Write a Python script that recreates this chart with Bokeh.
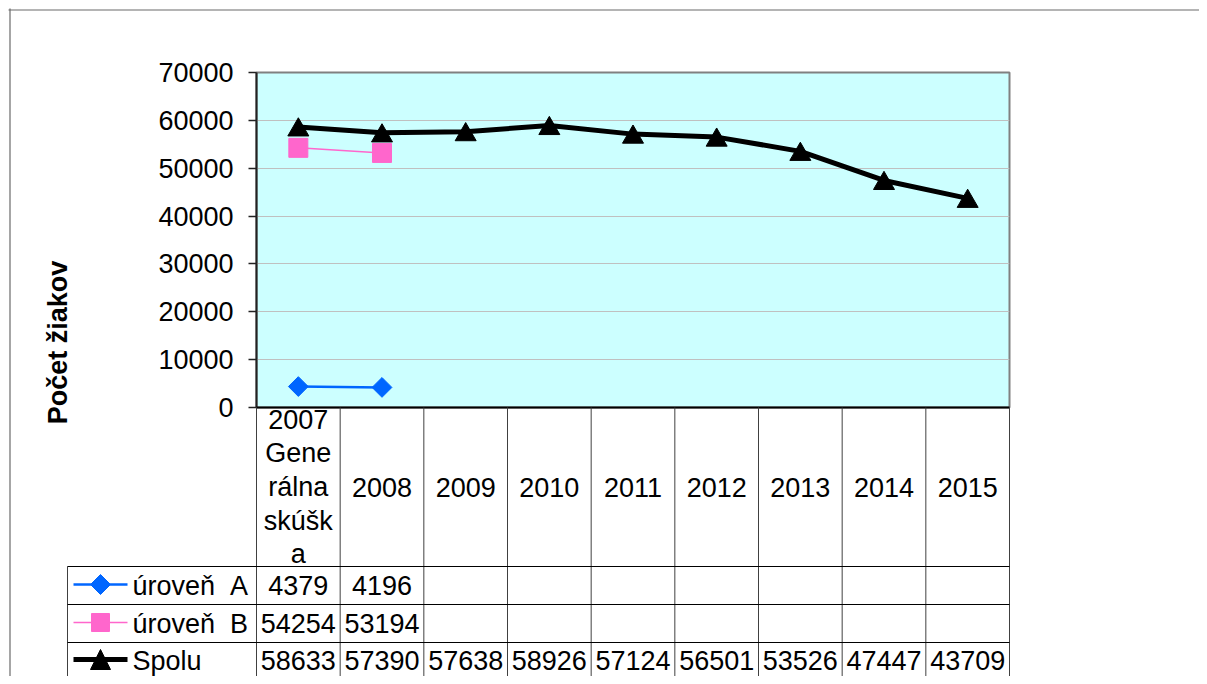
import math
import numpy as np
from bokeh.plotting import figure
from bokeh.models import Range1d, FixedTicker, BasicTickFormatter
from bokeh.core.properties import value
from bokeh.embed import file_html
from bokeh.resources import INLINE

# ---------------- data ----------------
categories = ["2007\nGene\nrálna\nskúšk\na", "2008", "2009", "2010", "2011",
              "2012", "2013", "2014", "2015"]
series_names = ["úroveň \u00a0A", "úroveň \u00a0B", "Spolu"]
uroven_a = [4379, 4196, None, None, None, None, None, None, None]
uroven_b = [54254, 53194, None, None, None, None, None, None, None]
spolu = [58633, 57390, 57638, 58926, 57124, 56501, 53526, 47447, 43709]
y_ticks = [0, 10000, 20000, 30000, 40000, 50000, 60000, 70000]
y_title = "Počet žiakov"

# ---------------- layout (pixels) ----------------
W, H = 1199, 676
PA_L, PA_R, PA_T, PA_B = 256, 1009, 72, 407
HDR_B = 566
ROW_EDGES = [566, 604, 642, 700]
ROW_CENTERS = [585, 623, 660]
LEG_L = 67
FONT = value("Liberation Sans")
FS = "27px"

colors = ["#0066FF", "#FF66CC", "#000000"]


def arr(v):
    return np.array([np.nan if a is None else a for a in v], dtype=float)


xs = np.arange(len(categories))
n = len(categories)

p = figure(width=W, height=H, x_range=Range1d(-0.5, n - 0.5),
           y_range=Range1d(y_ticks[0], y_ticks[-1]),
           x_axis_type=None, y_axis_location="left",
           output_backend="svg", toolbar_location=None,
           min_border_left=PA_L, min_border_right=W - PA_R,
           min_border_top=PA_T, min_border_bottom=H - PA_B,
           background_fill_color="#CCFFFF", border_fill_color="white")
p.extra_x_ranges = {"px_x": Range1d(PA_L, PA_R)}
p.extra_y_ranges = {"px_y": Range1d(PA_B, PA_T)}
# small shift so triangle markers are box-centred on their values
tri_shift = 3 * (y_ticks[-1] - y_ticks[0]) / (PA_B - PA_T)
p.extra_y_ranges["tri"] = Range1d(y_ticks[0] + tri_shift, y_ticks[-1] + tri_shift)

p.outline_line_color = "#808080"
p.outline_line_width = 2

ax = p.yaxis[0]
ax.ticker = FixedTicker(ticks=y_ticks)
ax.formatter = BasicTickFormatter(use_scientific=False)
ax.axis_line_color = "#222222"
ax.axis_line_width = 2
ax.major_tick_line_color = "#222222"
ax.major_tick_line_width = 1.5
ax.major_tick_out = 8
ax.major_tick_in = 0
ax.minor_tick_line_color = None
ax.major_label_text_font = "Liberation Sans"
ax.major_label_text_font_size = FS
ax.major_label_text_color = "black"
ax.major_label_standoff = 15

p.ygrid.grid_line_color = "#C0C0C0"
p.ygrid.grid_line_width = 1

# ---------------- series ----------------
a = arr(uroven_a)
b = arr(uroven_b)
s = arr(spolu)

p.line(xs, a, line_color=colors[0], line_width=2.5)
p.scatter(xs, a, marker="square", angle=math.pi / 4, size=14,
          fill_color=colors[0], line_color=colors[0])
p.line(xs, b, line_color=colors[1], line_width=1.5)
p.scatter(xs, b, marker="square", size=19, fill_color=colors[1], line_color=colors[1])
p.line(xs, s, line_color=colors[2], line_width=5)
p.scatter(xs, s, marker="triangle", size=21, fill_color=colors[2],
          line_color=colors[2], y_range_name="tri")

# x axis base line
p.segment(x0=[-0.5], y0=[0], x1=[n - 0.5], y1=[0], line_color="black",
          line_width=2, level="overlay")

# ---------------- data table ----------------
grid_col = "#404040"
col_edges = [k - 0.5 for k in range(n + 1)]
p.segment(x0=col_edges, y0=[PA_B] * len(col_edges), x1=col_edges,
          y1=[ROW_EDGES[-1]] * len(col_edges), y_range_name="px_y",
          line_color=grid_col, line_width=1, level="overlay")
p.segment(x0=[LEG_L], y0=[HDR_B], x1=[LEG_L], y1=[ROW_EDGES[-1]],
          x_range_name="px_x", y_range_name="px_y",
          line_color=grid_col, line_width=1, level="overlay")
hy = ROW_EDGES[:-1]
p.segment(x0=[LEG_L] * len(hy), y0=hy, x1=[PA_R] * len(hy), y1=hy,
          x_range_name="px_x", y_range_name="px_y",
          line_color="black", line_width=1, level="overlay")

# header texts
p.text(x=xs, y=[(PA_B + HDR_B) / 2] * n, text=categories, y_range_name="px_y",
       text_font=FONT, text_font_size=FS, text_align="center",
       text_baseline="middle", text_line_height=1.12, text_color="black",
       level="overlay")


def key_shape(kind, cx, cy, r):
    if kind == "diamond":
        return [cx - r, cx, cx + r, cx], [cy, cy - r, cy, cy + r]
    if kind == "square":
        return [cx - r, cx + r, cx + r, cx - r], [cy - r, cy - r, cy + r, cy + r]
    return [cx - r, cx + r, cx], [cy + r, cy + r, cy - r]


series = [uroven_a, uroven_b, spolu]
key_kinds = ["diamond", "square", "triangle"]
key_r = [10, 9, 10]
key_w = [2.5, 1.5, 5]
for r, vals in enumerate(series):
    yc = ROW_CENTERS[r]
    idx = [i for i, v in enumerate(vals) if v is not None]
    p.text(x=idx, y=[yc] * len(idx), text=[str(vals[i]) for i in idx],
           y_range_name="px_y", text_font=FONT, text_font_size=FS,
           text_align="center", text_baseline="middle", text_color="black",
           level="overlay")
    # legend key
    p.segment(x0=[73], y0=[yc - 1], x1=[127], y1=[yc - 1],
              x_range_name="px_x", y_range_name="px_y",
              line_color=colors[r], line_width=key_w[r], level="overlay")
    kx, ky = key_shape(key_kinds[r], 100, yc - 1, key_r[r])
    p.patch(kx, ky, fill_color=colors[r], line_color=colors[r], line_width=1,
            x_range_name="px_x", y_range_name="px_y", level="overlay")
    p.text(x=[132], y=[yc], text=[series_names[r]], x_range_name="px_x",
           y_range_name="px_y", text_font=FONT, text_font_size=FS,
           text_align="left", text_baseline="middle", text_color="black",
           level="overlay")

# y axis title
p.text(x=[57], y=[342], text=[y_title], x_range_name="px_x", y_range_name="px_y",
       angle=math.pi / 2, text_align="center", text_baseline="middle",
       text_font=FONT, text_font_size=FS, text_font_style="bold",
       text_color="black", level="overlay")

# outer chart border (top and left edges visible)
p.segment(x0=[8, 9.5], y0=[9.5, 8], x1=[1207, 9.5], y1=[9.5, 684],
          x_range_name="px_x", y_range_name="px_y",
          line_color="#6A6A6A", line_width=1.2, level="overlay")

open("out.html", "w").write(file_html(p, INLINE))
